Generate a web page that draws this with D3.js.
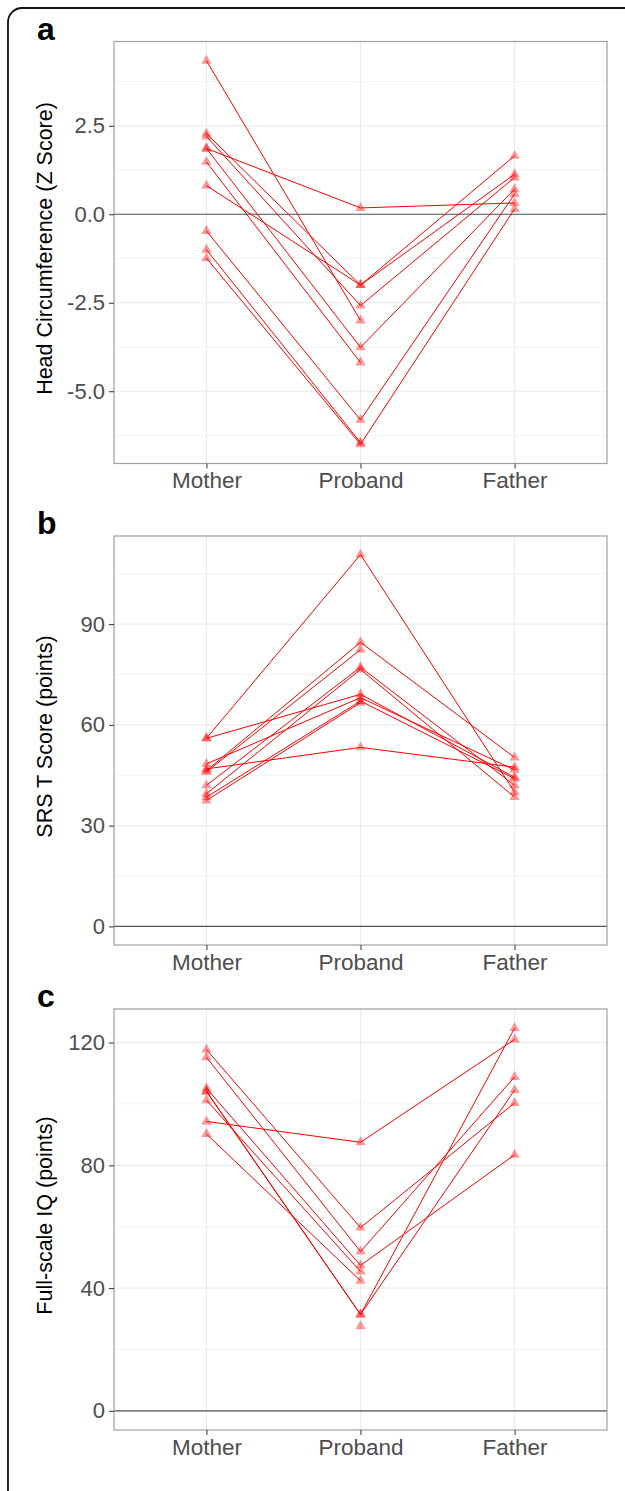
<!DOCTYPE html>
<html><head><meta charset="utf-8">
<script src="https://cdn.jsdelivr.net/npm/d3@7"></script>
<style>
html,body{margin:0;padding:0;background:#fff;}
svg{display:block;font-family:"Liberation Sans",Arial,Helvetica,sans-serif;}
</style></head>
<body>
<script>
// ---- data ----
const categories = ["Mother", "Proband", "Father"];

// Panel a: Head Circumference (Z score), one entry per family
const headMother  = [1.86, 0.81, 2.28, 2.20, 1.86, -0.47, -1.24, -1.00, 4.34, 1.48];
const headProband = [0.18, -2.00, -2.00, -2.58, -3.76, -5.81, -6.50, -6.45, -3.00, -4.19];
const headFather  = [0.32, 1.65, 1.13, 1.04, 0.71, 0.57, 0.15, null, null, null];
const headTicks = [-5, -2.5, 0, 2.5];
const headTickLabels = ["-5.0", "-2.5", "0.0", "2.5"];
const headMinor = [-6.25, -3.75, -1.25, 1.25, 3.75];

// Panel b: SRS T score
const srsMother  = [56, 56, 46.4, 46.9, 42.0, 39.5, 48.4, 38.5, 37.5, 46.0];
const srsProband = [110.7, 69.1, 84.6, 53.3, 77.2, 76.5, 68.1, 67.1, 66.6, 82.4];
const srsFather  = [40.0, 44.4, 50.3, 47.4, 42.0, 38.5, 46.6, 44.0, null, null];
const srsTicks = [0, 30, 60, 90];
const srsTickLabels = ["0", "30", "60", "90"];
const srsMinor = [15, 45, 75, 105];

// Panel c: Full-scale IQ
const iqMother  = [94.3, 117.7, 115.2, 105.1, 104.2, 104.0, 101.2, 90.2, null];
const iqProband = [87.5, 59.7, 51.9, 47.4, 31.4, 31.4, 45.4, 42.4, 27.6];
const iqFather  = [121.0, 100.3, 108.8, 83.4, 124.7, 104.5, null, null, null];
const iqTicks = [0, 40, 80, 120];
const iqTickLabels = ["0", "40", "80", "120"];
const iqMinor = [20, 60, 100];

const panels = [
  {letter:"a", title:"Head Circumference (Z Score)", m:headMother, p:headProband, f:headFather,
   ticks:headTicks, labels:headTickLabels, minor:headMinor, top:41.5, bottom:463.5},
  {letter:"b", title:"SRS T Score (points)", m:srsMother, p:srsProband, f:srsFather,
   ticks:srsTicks, labels:srsTickLabels, minor:srsMinor, top:536, bottom:945},
  {letter:"c", title:"Full-scale IQ (points)", m:iqMother, p:iqProband, f:iqFather,
   ticks:iqTicks, labels:iqTickLabels, minor:iqMinor, top:1009, bottom:1430}
];

// ---- drawing ----
const W = 625, H = 1491;
const svg = d3.select("body").append("svg").attr("width", W).attr("height", H);

// outer rounded frame (extends past right/bottom edges)
svg.append("rect").attr("x", 8).attr("y", 8).attr("width", 720).attr("height", 1600)
  .attr("rx", 14).attr("fill", "none").attr("stroke", "#111").attr("stroke-width", 1.8);

const left = 114, right = 607;
const x = d3.scalePoint().domain(categories).range([left, right]).padding(0.6);

const tri = d3.symbol().type(d3.symbolTriangle).size(46);

panels.forEach(pn => {
  const all = [...pn.m, ...pn.p, ...pn.f].filter(v => v != null).concat([0]);
  const lo = d3.min(all), hi = d3.max(all), r = hi - lo;
  const y = d3.scaleLinear().domain([lo - 0.05*r, hi + 0.05*r]).range([pn.bottom, pn.top]);
  const g = svg.append("g");

  // grid
  g.selectAll(".minor").data(pn.minor).enter().append("line")
    .attr("x1", left).attr("x2", right).attr("y1", d => y(d)).attr("y2", d => y(d))
    .attr("stroke", "#F0F0F0").attr("stroke-width", 0.8);
  g.selectAll(".major").data(pn.ticks).enter().append("line")
    .attr("x1", left).attr("x2", right).attr("y1", d => y(d)).attr("y2", d => y(d))
    .attr("stroke", "#EBEBEB").attr("stroke-width", 1.2);
  g.selectAll(".vmajor").data(categories).enter().append("line")
    .attr("x1", d => x(d)).attr("x2", d => x(d)).attr("y1", pn.top).attr("y2", pn.bottom)
    .attr("stroke", "#EBEBEB").attr("stroke-width", 1.2);

  // zero line
  g.append("line").attr("x1", left).attr("x2", right).attr("y1", y(0)).attr("y2", y(0))
    .attr("stroke", "#555").attr("stroke-width", 1.1);

  // families
  const fams = pn.p.map((_, i) => categories.map((c, j) => ({c, v: [pn.m, pn.p, pn.f][j][i]}))
    .filter(d => d.v != null));
  const pts = fams.flat();
  g.selectAll(".pt").data(pts).enter().append("path")
    .attr("d", tri).attr("transform", d => `translate(${x(d.c)},${y(d.v)})`)
    .attr("fill", "#FF0000").attr("fill-opacity", 0.4);
  const line = d3.line().x(d => x(d.c)).y(d => y(d.v));
  g.selectAll(".fam").data(fams.filter(f => f.length > 1)).enter().append("path")
    .attr("d", line).attr("fill", "none").attr("stroke", "#FF0000").attr("stroke-width", 1);

  // panel border
  g.append("rect").attr("x", left).attr("y", pn.top).attr("width", right - left)
    .attr("height", pn.bottom - pn.top).attr("fill", "none").attr("stroke", "#A0A0A0").attr("stroke-width", 1.2);

  // y axis
  const ya = g.append("g").attr("transform", `translate(${left},0)`)
    .call(d3.axisLeft(y).tickValues(pn.ticks).tickFormat((d, i) => pn.labels[i]).tickSize(5).tickPadding(4));
  ya.select(".domain").remove();
  ya.selectAll("line").attr("stroke", "#333");
  ya.selectAll("text").attr("fill", "#4D4D4D").style("font-size", "22px")
    .style("font-family", "'Liberation Sans', Arial, sans-serif");

  // x axis
  const xa = g.append("g").attr("transform", `translate(0,${pn.bottom})`)
    .call(d3.axisBottom(x).tickSize(5).tickPadding(4));
  xa.select(".domain").remove();
  xa.selectAll("line").attr("stroke", "#333");
  xa.selectAll("text").attr("fill", "#4D4D4D").style("font-size", "22.5px")
    .style("font-family", "'Liberation Sans', Arial, sans-serif");

  // y title
  g.append("text").attr("transform", `translate(45,${(pn.top + pn.bottom)/2 - 4}) rotate(-90)`)
    .attr("text-anchor", "middle").attr("dominant-baseline", "central")
    .style("font-size", "21.5px").attr("fill", "#000").text(pn.title);

  // panel letter
  g.append("text").attr("x", 37).attr("y", pn.top - 2)
    .style("font-size", "32px").style("font-weight", "bold").attr("fill", "#000").text(pn.letter);
});
</script>
</body></html>
